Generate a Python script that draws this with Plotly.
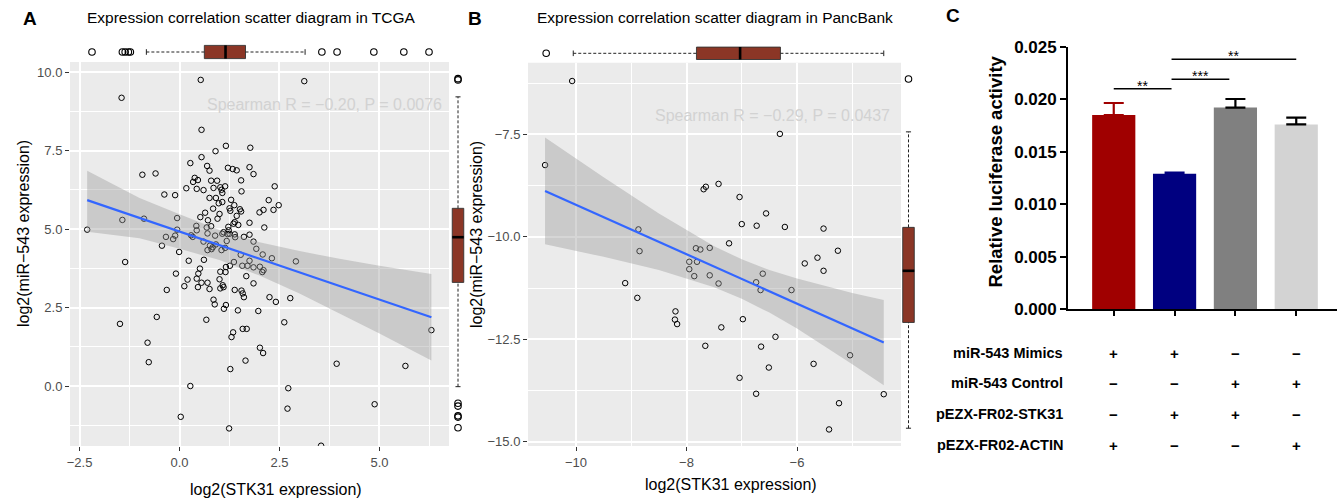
import plotly.graph_objects as go

W, H = 1343, 502
FONT = "Liberation Sans, Arial, sans-serif"

# ---------------- Panel A : TCGA ----------------
tcga_stk31 = [
    0.53, 3.12, -1.45, -2.31,
    0.55, 1.16, 1.77, 0.90, 0.55, 0.27, 0.69, 0.75, 1.21, 1.33, 1.43, 1.75, 1.85, -0.93, -0.60, 0.38, 0.46, 0.34, 0.79, 0.94, 1.54,
    0.17, 0.43, 0.60, 0.85, 1.02, 1.14, 1.05, 1.07, 1.55, 2.38, -0.38, -0.11, 0.75, 0.91, 0.98, 1.07, 1.29, 1.37, 2.23, 2.48, 2.35, 2.10, 2.00,
    0.84, 0.64, 1.00, 0.52, 0.71, 0.95, 1.25, 1.27, 1.51, 1.54, 1.43, 1.38, 1.35, 1.47, 1.75, 2.12, -0.06, 0.42, 0.68, 0.79, 0.43, 1.22, 1.23,
    0.89, 1.07, 1.25, 1.75, -0.06, -1.43, -0.89, -0.16, -0.34, -0.11,
    -0.44, -0.01, -1.36, 0.29, 0.33, 0.70, 1.10, 1.20, 1.38, 1.39, 1.61, 1.85, 0.60, 0.76, 0.80, 0.70, 0.83, 0.91, 1.05, 1.14, 1.18, 1.53, 1.92, 2.08, 2.31, 2.91,
    0.23, 0.61, 0.51, 0.47, 0.43, 0.55, 0.70, 0.46, 0.12, 0.20, -0.09, -0.32, 0.75, 1.02, 1.15, 1.16, 1.26, 1.36, 1.00, 1.08,
    1.02, 1.10, 1.57, 1.70, 1.75, 1.85, 2.01, 2.07, 2.10, 1.67, 1.85, 1.38, 1.55, 1.58, 1.61, 2.25, 2.41, 2.77, 0.85, 0.88,
    1.16, 1.11, 1.46, 1.97, -0.57, 0.67, -1.49, 1.58, 1.68, 1.34, 1.30, 2.62, -0.80, 2.01, 2.09,
    -0.77, 0.27, 0.03, 1.24, 1.27, 1.65, 2.72, 2.70, 3.54, 3.93, 4.88, 5.65, 6.30,
]
tcga_mir543 = [
    9.75, 9.71, 9.18, 4.98,
    8.16, 7.65, 7.59, 7.48, 7.29, 7.10, 7.01, 6.86, 6.95, 6.91, 6.87, 6.97, 6.75, 6.73, 6.77, 6.63, 6.56, 6.50, 6.54, 6.54, 6.55,
    6.30, 6.28, 6.24, 6.31, 6.33, 6.36, 6.25, 6.15, 6.20, 6.36, 6.10, 6.08, 5.99, 5.99, 5.82, 5.86, 5.93, 5.76, 5.92, 5.76, 5.61, 5.61, 5.53,
    5.65, 5.52, 5.48, 5.38, 5.28, 5.33, 5.66, 5.58, 5.63, 5.56, 5.42, 5.22, 5.17, 5.13, 5.20, 5.05, 5.35, 5.10, 5.05, 5.09, 4.96, 5.07, 4.96,
    4.79, 4.85, 4.85, 4.82, 4.98, 5.29, 5.33, 4.68, 4.75, 4.79,
    4.47, 4.27, 3.95, 4.80, 4.75, 4.86, 4.90, 4.84, 4.83, 4.74, 4.75, 4.60, 4.60, 4.47, 4.36, 4.33, 4.42, 4.51, 4.33, 4.40, 4.62, 4.18, 4.37, 4.19, 4.07, 3.97,
    3.99, 4.02, 3.74, 3.58, 3.42, 3.29, 3.29, 3.15, 3.18, 3.39, 3.58, 3.06, 3.09, 3.64, 3.63, 3.79, 3.83, 3.95, 3.40, 3.21,
    3.11, 3.15, 3.83, 3.83, 3.99, 3.78, 3.80, 3.63, 3.69, 3.50, 3.27, 3.06, 3.04, 2.95, 2.83, 2.83, 2.68, 2.80, 2.75, 2.60,
    2.58, 2.46, 2.41, 2.39, 2.20, 2.11, 1.98, 1.82, 1.82, 1.71, 1.56, 2.03, 1.38, 1.22, 1.05,
    0.76, 0.00, -0.98, -1.35, 0.54, 0.81, -0.07, -0.72, -1.90, 0.71, -0.58, 0.64, 1.78,
]
tcga_fit_x = [-2.31, 6.30]
tcga_fit_y = [5.92, 2.19]
tcga_band_x = [-2.31, -1.0, 0.0, 1.0, 2.0, 3.0, 4.0, 5.0, 6.30]
tcga_band_hi = [6.86, 5.99, 5.47, 4.97, 4.58, 4.30, 4.05, 3.83, 3.57]
tcga_band_lo = [4.91, 4.71, 4.37, 4.01, 3.52, 2.95, 2.31, 1.67, 0.81]
# box stats: [lower whisker, q1, median, q3, upper whisker]
tcga_box_stk31 = [-0.83, 0.62, 1.15, 1.65, 3.14]
tcga_out_stk31 = [-2.19, -1.43, -1.36, -1.28, -1.23, 3.56, 3.94, 4.86, 5.61, 6.24]
tcga_box_mir = [-0.02, 3.30, 4.74, 5.66, 9.21]
tcga_out_mir = [9.75, 9.79, -0.55, -0.64, -0.95, -0.99, -1.33]
tcga_stat = "Spearman R = \u22120.20, P = 0.0076"

# ---------------- Panel B : PancBank ----------------
panc_stk31 = [
    -10.07, -10.56, -6.31, -7.69, -7.65, -7.42, -7.04, -6.56, -7.00, -6.73,
    -6.22, -5.52, -8.87, -8.85, -7.83, -7.75, -7.58, -7.23, -5.26, -5.63,
    -5.86, -5.52, -7.95, -7.81, -7.95, -7.86, -7.58, -7.42, -9.11, -8.89,
    -6.62, -6.74, -6.66, -6.10, -8.20, -8.21, -8.17, -6.98, -7.37, -6.39,
    -7.66, -6.65, -5.04, -5.70, -6.51, -7.04, -6.74, -4.43, -5.24, -5.42,
]
panc_mir543 = [
    -6.20, -8.25, -7.49, -8.84, -8.78, -8.71, -9.03, -9.43, -9.69, -9.73,
    -9.76, -9.80, -9.82, -10.35, -10.28, -10.31, -10.27, -10.16, -10.34, -10.51,
    -10.65, -10.83, -10.61, -10.61, -10.79, -10.96, -10.94, -11.14, -11.13, -11.49,
    -10.90, -11.11, -11.30, -11.30, -11.82, -12.02, -12.13, -12.01, -12.21, -12.44,
    -12.66, -12.68, -12.89, -13.10, -13.19, -13.44, -13.83, -13.84, -14.06, -14.70,
]
panc_fit_x = [-10.56, -4.43]
panc_fit_y = [-8.88, -12.58]
panc_band_x = [-10.56, -9.5, -8.5, -7.5, -7.0, -6.5, -6.0, -5.0, -4.43]
panc_band_hi = [-7.58, -8.55, -9.43, -10.23, -10.55, -10.81, -11.02, -11.37, -11.54]
panc_band_lo = [-10.18, -10.49, -10.81, -11.23, -11.51, -11.85, -12.24, -13.11, -13.62]
panc_box_stk31 = [-10.05, -7.82, -7.03, -6.30, -4.43]
panc_out_stk31 = [-10.54]
panc_box_mir = [-14.67, -12.09, -10.83, -9.77, -7.44]
panc_out_mir = [-6.15]
panc_stat = "Spearman R = \u22120.29, P = 0.0437"

# ---------------- Panel C : luciferase ----------------
luc_groups = [0, 1, 2, 3]
luc_values = [0.0185, 0.0129, 0.0192, 0.0176]
luc_errors = [0.00114, 0.00012, 0.00082, 0.00064]
luc_colors = ["#A00000", "#000080", "#808080", "#D3D3D3"]
luc_err_colors = ["#A00000", "#000080", "#000000", "#000000"]
luc_ticks = [0.000, 0.005, 0.010, 0.015, 0.020, 0.025]
sig_brackets = [(0, 0.95, 0.0210, "**"), (0.95, 1.9, 0.0219, "***"), (0.95, 3.0, 0.0238, "**")]
table_rows = ["miR-543 Mimics", "miR-543 Control", "pEZX-FR02-STK31", "pEZX-FR02-ACTIN"]
table_signs = [
    ["+", "+", "\u2212", "\u2212"],
    ["\u2212", "\u2212", "+", "+"],
    ["\u2212", "+", "+", "\u2212"],
    ["+", "\u2212", "\u2212", "+"],
]

# ---------------- helpers ----------------
def pxx(x):
    return x / W


def pxy(y):
    return 1 - y / H


BOX_FILL = "#8B3626"
fig = go.Figure()


def add_scatter_panel(xs, ys, fx, fy, bx, bhi, blo, xa, ya):
    fig.add_trace(go.Scatter(x=xs, y=ys, mode="markers", xaxis=xa, yaxis=ya,
                             marker=dict(symbol="circle-open", size=5.5, color="black",
                                         line=dict(width=1, color="black"))))
    fig.add_trace(go.Scatter(x=bx + bx[::-1], y=bhi + blo[::-1], fill="toself", mode="lines",
                             fillcolor="rgba(153,153,153,0.4)", line=dict(width=0),
                             xaxis=xa, yaxis=ya))
    fig.add_trace(go.Scatter(x=fx, y=fy, mode="lines", line=dict(color="#3366FF", width=2.2),
                             xaxis=xa, yaxis=ya))


def add_box(stats, outliers, horizontal, xa, ya, half, cap):
    lo, q1, med, q3, hi = stats

    def xy(vals, pos):
        return (vals, pos) if horizontal else (pos, vals)

    vx, vy = xy([q1, q3, q3, q1, q1], [-half, -half, half, half, -half])
    fig.add_trace(go.Scatter(x=vx, y=vy, fill="toself", fillcolor=BOX_FILL, mode="lines",
                             line=dict(color="#333333", width=0.9), xaxis=xa, yaxis=ya))
    vx, vy = xy([med, med], [-half, half])
    fig.add_trace(go.Scatter(x=vx, y=vy, mode="lines", line=dict(color="black", width=2.6),
                             xaxis=xa, yaxis=ya))
    vx, vy = xy([lo, q1, None, q3, hi], [0, 0, None, 0, 0])
    fig.add_trace(go.Scatter(x=vx, y=vy, mode="lines", line=dict(color="#222222", width=1, dash="3px,2px"),
                             xaxis=xa, yaxis=ya))
    vx, vy = xy([lo, lo, None, hi, hi], [-cap, cap, None, -cap, cap])
    fig.add_trace(go.Scatter(x=vx, y=vy, mode="lines", line=dict(color="#222222", width=1),
                             xaxis=xa, yaxis=ya))
    vx, vy = xy(outliers, [0] * len(outliers))
    fig.add_trace(go.Scatter(x=vx, y=vy, mode="markers", xaxis=xa, yaxis=ya,
                             marker=dict(symbol="circle-open", size=6.5, color="black",
                                         line=dict(width=1.1, color="black"))))


# Panel A
add_scatter_panel(tcga_stk31, tcga_mir543, tcga_fit_x, tcga_fit_y,
                  tcga_band_x, tcga_band_hi, tcga_band_lo, "x", "y")
add_box(tcga_box_stk31, tcga_out_stk31, True, "x2", "y2", 0.66, 0.28)
add_box(tcga_box_mir, tcga_out_mir, False, "x3", "y3", 0.64, 0.28)

# Panel B
add_scatter_panel(panc_stk31, panc_mir543, panc_fit_x, panc_fit_y,
                  panc_band_x, panc_band_hi, panc_band_lo, "x4", "y4")
add_box(panc_box_stk31, panc_out_stk31, True, "x5", "y5", 0.62, 0.28)
add_box(panc_box_mir, panc_out_mir, False, "x6", "y6", 0.68, 0.3)

# Panel C
for g, v, e, c, ec in zip(luc_groups, luc_values, luc_errors, luc_colors, luc_err_colors):
    fig.add_trace(go.Bar(x=[g], y=[v], width=0.71, marker=dict(color=c, line=dict(width=0)),
                         error_y=dict(type="data", symmetric=False, array=[e], arrayminus=[0],
                                      color=ec, thickness=2.2, width=10),
                         xaxis="x7", yaxis="y7"))
for x0, x1, lvl, lab in sig_brackets:
    fig.add_trace(go.Scatter(x=[x0, x1], y=[lvl, lvl], mode="lines",
                             line=dict(color="black", width=1.6), xaxis="x7", yaxis="y7"))

# ---------------- axes ----------------
tickfont = dict(size=13, color="#4D4D4D", family=FONT)
base = dict(showgrid=True, gridcolor="white", gridwidth=1.6, zeroline=False, showline=False,
            ticks="outside", ticklen=4, tickwidth=1.1, tickcolor="#333333", tickfont=tickfont,
            automargin=False)
hidden = dict(visible=False, showgrid=False, zeroline=False, automargin=False)

A_x = [70, 449]
A_y = [62, 446]
B_x = [528, 901]
B_y = [62.7, 446]
A_xr = [-2.74, 6.74]
A_yr = [-1.91, 10.32]
B_xr = [-10.869, -4.118]
B_yr = [-15.104, -5.753]

fig.update_layout(
    template="none",
    xaxis=dict(base, domain=[pxx(A_x[0]), pxx(A_x[1])], range=A_xr, tick0=0, dtick=2.5,
               tickformat=".1f", anchor="y",
               minor=dict(tick0=0, dtick=1.25, showgrid=True, gridcolor="white", gridwidth=0.8)),
    yaxis=dict(base, domain=[pxy(A_y[1]), pxy(A_y[0])], range=A_yr, tick0=0, dtick=2.5,
               tickformat=".1f", anchor="x",
               minor=dict(tick0=0, dtick=1.25, showgrid=True, gridcolor="white", gridwidth=0.8)),
    xaxis2=dict(hidden, domain=[pxx(A_x[0]), pxx(A_x[1])], range=A_xr, anchor="y2"),
    yaxis2=dict(hidden, domain=[pxy(62), pxy(42)], range=[-1, 1], anchor="x2"),
    xaxis3=dict(hidden, domain=[pxx(449), pxx(467)], range=[-1, 1], anchor="y3"),
    yaxis3=dict(hidden, domain=[pxy(A_y[1]), pxy(A_y[0])], range=A_yr, anchor="x3"),
    xaxis4=dict(base, domain=[pxx(B_x[0]), pxx(B_x[1])], range=B_xr, tick0=-10, dtick=2,
                tickformat="d", anchor="y4",
                minor=dict(tick0=-10, dtick=1, showgrid=True, gridcolor="white", gridwidth=0.8)),
    yaxis4=dict(base, domain=[pxy(B_y[1]), pxy(B_y[0])], range=B_yr, tick0=-7.5, dtick=2.5,
                tickformat=".1f", anchor="x4",
                minor=dict(tick0=-7.5, dtick=1.25, showgrid=True, gridcolor="white", gridwidth=0.8)),
    xaxis5=dict(hidden, domain=[pxx(B_x[0]), pxx(B_x[1])], range=B_xr, anchor="y5"),
    yaxis5=dict(hidden, domain=[pxy(63.3), pxy(43.3)], range=[-1, 1], anchor="x5"),
    xaxis6=dict(hidden, domain=[pxx(900), pxx(917)], range=[-1, 1], anchor="y6"),
    yaxis6=dict(hidden, domain=[pxy(B_y[1]), pxy(B_y[0])], range=B_yr, anchor="x6"),
    xaxis7=dict(domain=[pxx(1068), pxx(1337)], range=[-0.752, 3.67], tickvals=luc_groups,
                ticktext=[""] * len(luc_groups), ticks="outside", ticklen=5, tickwidth=1.8,
                tickcolor="black", showline=True, linecolor="black", linewidth=1.8,
                showgrid=False, zeroline=False, anchor="y7", automargin=False),
    yaxis7=dict(domain=[pxy(309.3), pxy(46.7)], range=[0, 0.025], tickvals=luc_ticks,
                ticktext=["<b>%.3f</b>" % t for t in luc_ticks], ticks="outside", ticklen=6,
                tickwidth=1.8, tickcolor="black", showline=True, linecolor="black", linewidth=1.8,
                showgrid=False, zeroline=False, anchor="x7", automargin=False,
                tickfont=dict(size=17, color="black", family=FONT)),
)

# panel backgrounds
shapes = []
for xr, yr in (("x", "y"), ("x4", "y4")):
    shapes.append(dict(type="rect", xref=xr + " domain", yref=yr + " domain", x0=0, x1=1, y0=0, y1=1,
                       fillcolor="#EBEBEB", line=dict(width=0), layer="below"))

# ---------------- annotations ----------------
anns = []


def ann(text, x, y, size, color="black", xanchor="center", **kw):
    d = dict(text=text, x=pxx(x), y=pxy(y), xref="paper", yref="paper", showarrow=False,
             xanchor=xanchor, yanchor="middle",
             font=dict(size=size, color=color, family=FONT))
    d.update(kw)
    anns.append(d)


ann("<b>A</b>", 30, 18.5, 19)
ann("<b>B</b>", 475, 18.5, 19)
ann("<b>C</b>", 953, 16, 19)
ann("Expression correlation scatter diagram in TCGA", 251, 18, 15.5)
ann("Expression correlation scatter diagram in PancBank", 715, 18, 15.5)
ann("log2(STK31 expression)", 276, 489, 16)
ann("log2(STK31 expression)", 731, 484, 16)
ann("log2(miR\u2212543 expression)", 23, 234, 16, textangle=-90)
ann("log2(miR\u2212543 expression)", 476, 235, 16, textangle=-90)
ann(tcga_stat, 324, 104, 16, color="#D2D2D2")
ann(panc_stat, 773, 115, 16, color="#D2D2D2")
ann("<b>Relative luciferase activity</b>", 995.5, 172, 18.5, textangle=-90)

for x0, x1, lvl, lab in sig_brackets:
    anns.append(dict(text=lab, x=(x0 + x1) / 2, y=lvl, xref="x7", yref="y7", showarrow=False,
                     xanchor="center", yanchor="middle", yshift=3,
                     font=dict(size=14, color="black", family=FONT)))

row_y = [353.3, 383.3, 414.3, 445]
for label, signs, ry in zip(table_rows, table_signs, row_y):
    ann("<b>%s</b>" % label, 1065, ry, 14.5, xanchor="right")
    for g, s in zip(luc_groups, signs):
        anns.append(dict(text="<b>%s</b>" % s, x=g, y=pxy(ry), xref="x7", yref="paper",
                         showarrow=False, xanchor="center", yanchor="middle",
                         font=dict(size=15, color="black", family=FONT)))

fig.update_layout(width=W, height=H, margin=dict(l=0, r=0, t=0, b=0, pad=0),
                  paper_bgcolor="white", plot_bgcolor="rgba(0,0,0,0)", showlegend=False,
                  barmode="overlay", font=dict(family=FONT), shapes=shapes, annotations=anns)

fig.write_html("out.html", config={"displayModeBar": False},
               post_script="document.body.style.margin='0px';")
